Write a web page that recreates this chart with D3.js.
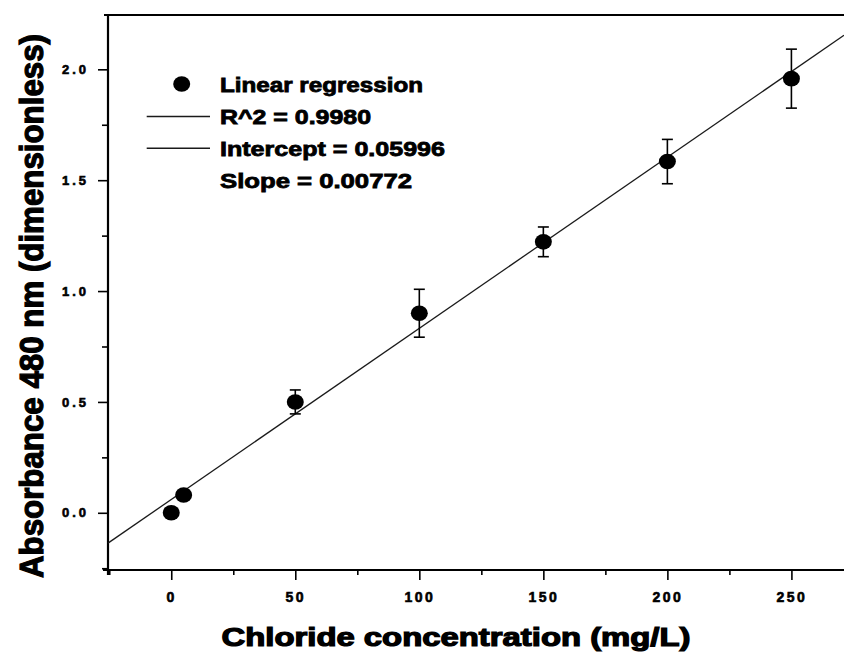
<!DOCTYPE html>
<html>
<head>
<meta charset="utf-8">
<script src="https://cdn.jsdelivr.net/npm/d3@7"></script>
<style>
  html, body { margin: 0; padding: 0; background: #fff; }
  svg { display: block; }
  text { font-family: "Liberation Sans", Arial, sans-serif; font-weight: bold; fill: #000; }
</style>
</head>
<body>
<svg id="chart" width="844" height="655"></svg>
<script>
// ---- data ----
const concentration = [0, 5, 50, 100, 150, 200, 250];          // mg/L
const absorbance    = [0.00, 0.08, 0.50, 0.90, 1.222, 1.584, 1.958];
const errorBars     = [0, 0, 0.054, 0.108, 0.067, 0.10, 0.133];
const intercept = 0.05996;
const slope = 0.00772;
const xTicks = [0, 50, 100, 150, 200, 250];
const xMinorTicks = [-25, 25, 75, 125, 175, 225, 275];
const yTicks = [0.0, 0.5, 1.0, 1.5, 2.0];
const yMinorTicks = [-0.25, 0.25, 0.75, 1.25, 1.75];
const legendLabels = ["Linear regression", "R^2 = 0.9980", "Intercept = 0.05996", "Slope = 0.00772"];
const xTitle = "Chloride concentration (mg/L)";
const yTitle = "Absorbance 480 nm (dimensionless)";

const svg = d3.select("#chart");
const x = d3.scaleLinear().domain([-25.5, 271.2]).range([108, 844]);
const y = d3.scaleLinear().domain([-0.258, 2.245]).range([570, 15]);
const [x0, x1] = x.range();
const [yB, yT] = y.range();

// ---- axes ----
const xAxis = d3.axisBottom(x).tickValues(xTicks).tickSize(10).tickSizeOuter(0).tickPadding(12)
  .tickFormat(d3.format("d"));
const gx = svg.append("g").attr("transform", `translate(0,${yB})`).call(xAxis);
gx.select(".domain").remove();
gx.selectAll(".tick line").attr("stroke", "#000").attr("stroke-width", 1.6);
gx.selectAll(".tick text").style("font-size", "14px").attr("letter-spacing", "2.5px")
  .attr("dy", "0.71em").attr("stroke", "#000").attr("stroke-width", 0.6);
const gxm = svg.append("g").attr("transform", `translate(0,${yB})`)
  .call(d3.axisBottom(x).tickValues(xMinorTicks.filter(v => v >= x.domain()[0] && v <= x.domain()[1])).tickSize(5).tickFormat(""));
gxm.select(".domain").remove();
gxm.selectAll(".tick line").attr("stroke", "#000").attr("stroke-width", 1.6);

const yAxis = d3.axisLeft(y).tickValues(yTicks).tickSize(10).tickSizeOuter(0).tickPadding(9)
  .tickFormat(d3.format(".1f"));
const gy = svg.append("g").attr("transform", `translate(${x0},0)`).call(yAxis);
gy.select(".domain").remove();
gy.selectAll(".tick line").attr("stroke", "#000").attr("stroke-width", 1.6);
gy.selectAll(".tick text").style("font-size", "13px").attr("letter-spacing", "3px")
  .attr("stroke", "#000").attr("stroke-width", 0.6);
const gym = svg.append("g").attr("transform", `translate(${x0},0)`)
  .call(d3.axisLeft(y).tickValues(yMinorTicks.filter(v => v >= y.domain()[0] && v <= y.domain()[1])).tickSize(6).tickFormat(""));
gym.select(".domain").remove();
gym.selectAll(".tick line").attr("stroke", "#000").attr("stroke-width", 1.6);

// frame lines: left axis, bottom axis, top border
svg.append("line").attr("x1", x0).attr("x2", x0).attr("y1", yT).attr("y2", yB + 5)
  .attr("stroke", "#000").attr("stroke-width", 2.2);
svg.append("line").attr("x1", x0 - 5).attr("x2", x1).attr("y1", yB).attr("y2", yB)
  .attr("stroke", "#000").attr("stroke-width", 2.2);
svg.append("line").attr("x1", x0 - 4).attr("x2", x1).attr("y1", yT).attr("y2", yT)
  .attr("stroke", "#000").attr("stroke-width", 2.2);

// ---- regression line ----
const fitX = x.domain();
svg.append("line")
  .attr("x1", x(fitX[0])).attr("y1", y(intercept + slope * fitX[0]))
  .attr("x2", x(fitX[1])).attr("y2", y(intercept + slope * fitX[1]))
  .attr("stroke", "#1a1a1a").attr("stroke-width", 1.3);

// ---- error bars ----
const pts = concentration.map((c, i) => ({ c, a: absorbance[i], e: errorBars[i] }));
const eb = svg.append("g").attr("stroke", "#000").attr("stroke-width", 1.6);
pts.filter(d => d.e > 0).forEach(d => {
  eb.append("line").attr("x1", x(d.c)).attr("x2", x(d.c)).attr("y1", y(d.a - d.e)).attr("y2", y(d.a + d.e));
  eb.append("line").attr("x1", x(d.c) - 5.5).attr("x2", x(d.c) + 5.5).attr("y1", y(d.a + d.e)).attr("y2", y(d.a + d.e));
  eb.append("line").attr("x1", x(d.c) - 5.5).attr("x2", x(d.c) + 5.5).attr("y1", y(d.a - d.e)).attr("y2", y(d.a - d.e));
});

// ---- markers ----
svg.append("g").selectAll("ellipse").data(pts).join("ellipse")
  .attr("cx", d => x(d.c)).attr("cy", d => y(d.a)).attr("rx", 8.5).attr("ry", 7.8)
  .attr("fill", "#000");

// ---- legend ----
const lg = svg.append("g");
const rowY = [84, 116.5, 148.3, 180];
const textW = [203, 151, 225, 192];
lg.append("ellipse").attr("cx", 181.7).attr("cy", rowY[0]).attr("rx", 8.5).attr("ry", 7.8).attr("fill", "#000");
[1, 2].forEach(i => {
  lg.append("line").attr("x1", 146.7).attr("x2", 210).attr("y1", rowY[i]).attr("y2", rowY[i])
    .attr("stroke", "#1a1a1a").attr("stroke-width", 1.5);
});
legendLabels.forEach((t, i) => {
  lg.append("text").attr("x", 220).attr("y", rowY[i] + 7.5).text(t)
    .style("font-size", "20px")
    .attr("textLength", textW[i]).attr("lengthAdjust", "spacingAndGlyphs")
    .attr("stroke", "#000").attr("stroke-width", 0.8);
});

// ---- axis titles ----
svg.append("text").attr("x", 456).attr("y", 646).attr("text-anchor", "middle")
  .style("font-size", "25px").text(xTitle)
  .attr("textLength", 469).attr("lengthAdjust", "spacingAndGlyphs")
  .attr("stroke", "#000").attr("stroke-width", 1.2);
svg.append("text").attr("transform", "translate(43,306) rotate(-90)").attr("text-anchor", "middle")
  .style("font-size", "33px").text(yTitle)
  .attr("textLength", 544).attr("lengthAdjust", "spacingAndGlyphs")
  .attr("stroke", "#000").attr("stroke-width", 1.2);
</script>
</body>
</html>
